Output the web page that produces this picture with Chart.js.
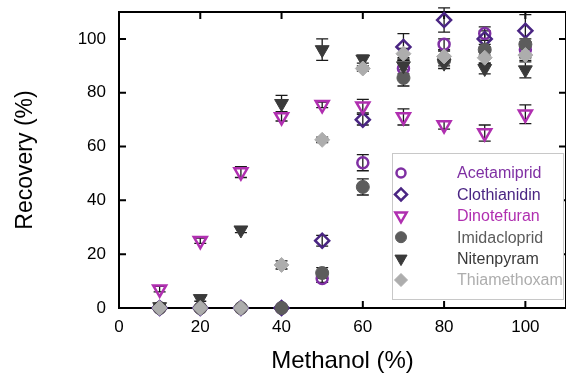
<!DOCTYPE html>
<html>
<head>
<meta charset="utf-8">
<script src="https://cdn.jsdelivr.net/npm/chart.js@4.4.0/dist/chart.umd.min.js"></script>
<style>
    html, body { margin: 0; padding: 0; background: #fff; }
    #wrap { width: 566px; height: 376px; }
</style>
</head>
<body>
<div id="wrap"><canvas id="recoveryChart"></canvas></div>
<script>
// Methanol content (%) on the x axis
const methanol = [10, 20, 30, 40, 50, 60, 70, 80, 90, 100];

// Recovery (%) per compound, with +/- error
const acetamiprid     = [0, 0, 0, 0, 11, 54, 89, 98, 102, 96];
const acetamipridErr  = [0, 0, 0, 0, 1.5, 3, 3, 2, 2.5, 3];
const clothianidin    = [0, 0, 0, 0, 25, 70, 97, 107, 100, 103];
const clothianidinErr = [0, 0, 0, 0, 2, 2, 5, 4.5, 3, 6];
const dinotefuran     = [7, 25, 50.5, 71, 75.5, 75, 71, 68, 65, 72];
const dinotefuranErr  = [1, 1, 2, 1.5, 1, 2.5, 3, 1.5, 3, 3.5];
const imidacloprid    = [0, 0, 0, 0, 13, 45, 85.5, 92, 96, 98];
const imidaclopridErr = [0, 0, 0, 0, 2, 3, 3, 2, 2, 2];
const nitenpyram      = [0.5, 3.5, 29, 76, 96, 92.5, 90, 91, 89, 88.5];
const nitenpyramErr   = [0.5, 1, 1, 3, 4, 1.5, 3, 2, 2, 3];
const thiamethoxam    = [0, 0, 0, 16, 62.5, 89, 94.5, 93.5, 93, 94];
const thiamethoxamErr = [0, 0, 0, 1.5, 1, 1, 2, 2, 2, 2];

const tickValues = [0, 20, 40, 60, 80, 100];
const FONT = '"Liberation Sans", Arial, sans-serif';

function toPoints(ys) {
    return methanol.map((x, i) => ({ x: x, y: ys[i] }));
}

const series = [
    { label: 'Acetamiprid',  data: acetamiprid,  err: acetamipridErr,  color: '#7f2fa3', style: 'circle',   radius: 5.5, open: true,  rotation: 0 },
    { label: 'Clothianidin', data: clothianidin, err: clothianidinErr, color: '#4a2583', style: 'rectRot',  radius: 7,   open: true,  rotation: 0 },
    { label: 'Dinotefuran',  data: dinotefuran,  err: dinotefuranErr,  color: '#b02fb0', style: 'triangle', radius: 7.5, open: true,  rotation: 180 },
    { label: 'Imidacloprid', data: imidacloprid, err: imidaclopridErr, color: '#5c5c5c', style: 'circle',   radius: 6.5, open: false, rotation: 0 },
    { label: 'Nitenpyram',   data: nitenpyram,   err: nitenpyramErr,   color: '#3a3a3a', style: 'triangle', radius: 8,   open: false, rotation: 180 },
    { label: 'Thiamethoxam', data: thiamethoxam, err: thiamethoxamErr, color: '#adadad', style: 'rectRot',  radius: 7.5, open: false, rotation: 0 }
];

// error bars, drawn under the markers
const errorBars = {
    id: 'errorBars',
    beforeDatasetsDraw(chart) {
        const ctx = chart.ctx;
        const xs = chart.scales.x, ys = chart.scales.y;
        ctx.save();
        ctx.strokeStyle = '#1a1a1a';
        ctx.lineWidth = 1.3;
        series.forEach(s => {
            methanol.forEach((m, i) => {
                const e = s.err[i];
                if (!e) return;
                const px = xs.getPixelForValue(m);
                const top = ys.getPixelForValue(s.data[i] + e);
                const bot = ys.getPixelForValue(s.data[i] - e);
                ctx.beginPath();
                ctx.moveTo(px, top); ctx.lineTo(px, bot);
                ctx.moveTo(px - 6, top); ctx.lineTo(px + 6, top);
                ctx.moveTo(px - 6, bot); ctx.lineTo(px + 6, bot);
                ctx.stroke();
            });
        });
        ctx.restore();
    }
};

// box frame with inward ticks on all four sides
const frame = {
    id: 'frame',
    beforeDatasetsDraw(chart) {
        const ctx = chart.ctx;
        const a = chart.chartArea;
        const xs = chart.scales.x, ys = chart.scales.y;
        ctx.save();
        ctx.strokeStyle = '#000';
        ctx.lineWidth = 2;
        ctx.strokeRect(a.left, a.top, a.right - a.left, a.bottom - a.top);
        ctx.beginPath();
        tickValues.forEach(v => {
            const px = xs.getPixelForValue(v);
            ctx.moveTo(px, a.bottom); ctx.lineTo(px, a.bottom - 7);
            ctx.moveTo(px, a.top); ctx.lineTo(px, a.top + 7);
            const py = ys.getPixelForValue(v);
            ctx.moveTo(a.left, py); ctx.lineTo(a.left + 7, py);
            ctx.moveTo(a.right, py); ctx.lineTo(a.right - 7, py);
        });
        ctx.stroke();
        ctx.restore();
    }
};

// legend box inside the plot, bottom right
const boxLegend = {
    id: 'boxLegend',
    afterDraw(chart) {
        const ctx = chart.ctx;
        const bx = 392, by = 153, bw = 171, bh = 146;
        ctx.save();
        ctx.fillStyle = '#fff';
        ctx.fillRect(bx, by, bw, bh);
        ctx.strokeStyle = '#c8c8c8';
        ctx.lineWidth = 1;
        ctx.strokeRect(bx + 0.5, by + 0.5, bw, bh);
        ctx.font = '16px ' + FONT;
        ctx.textBaseline = 'middle';
        series.forEach((s, i) => {
            const y = by + 20 + i * 21.4;
            ctx.fillStyle = s.open ? 'rgba(0,0,0,0)' : s.color;
            ctx.strokeStyle = s.color;
            ctx.lineWidth = s.open ? 2.5 : 1;
            Chart.helpers.drawPoint(ctx, {
                pointStyle: s.style,
                radius: s.radius - 1,
                rotation: s.rotation,
                borderWidth: ctx.lineWidth
            }, 401, y);
            ctx.fillStyle = s.color;
            ctx.fillText(s.label, 457, y + 1);
        });
        ctx.restore();
    }
};

function noPadding(scale) {
    scale.paddingTop = 0;
    scale.paddingBottom = 0;
    scale.paddingLeft = 0;
    scale.paddingRight = 0;
}

const ctx = document.getElementById('recoveryChart').getContext('2d');
new Chart(ctx, {
    type: 'scatter',
    data: {
        datasets: series.map((s, i) => ({
            label: s.label,
            data: toPoints(s.data),
            pointStyle: s.style,
            pointRadius: s.radius,
            pointRotation: s.rotation,
            pointBorderWidth: s.open ? 2.5 : 1,
            pointBackgroundColor: s.open ? 'rgba(0,0,0,0)' : s.color,
            pointBorderColor: s.color,
            borderColor: s.color,
            showLine: false,
            clip: false,
            order: series.length - i
        }))
    },
    options: {
        responsive: true,
        maintainAspectRatio: false,
        animation: false,
        layout: { autoPadding: false, padding: { top: 12, right: 0, left: 0, bottom: 0 } },
        plugins: {
            legend: { display: false },
            tooltip: { enabled: false }
        },
        scales: {
            x: {
                type: 'linear',
                min: 0,
                max: 110,
                afterBuildTicks: scale => { scale.ticks = tickValues.map(v => ({ value: v })); },
                afterFit: scale => { scale.height = 68; noPadding(scale); },
                grid: { display: false, drawTicks: false },
                border: { display: false },
                ticks: { color: '#000', padding: 9, font: { family: FONT, size: 17 } },
                title: {
                    display: true,
                    text: 'Methanol (%)',
                    color: '#000',
                    font: { family: FONT, size: 24 },
                    padding: { top: 4, bottom: 0 }
                }
            },
            y: {
                type: 'linear',
                min: 0,
                max: 110,
                afterBuildTicks: scale => { scale.ticks = tickValues.map(v => ({ value: v })); },
                afterFit: scale => { scale.width = 119; noPadding(scale); },
                grid: { display: false, drawTicks: false },
                border: { display: false },
                ticks: { color: '#000', padding: 13, font: { family: FONT, size: 17 } },
                title: {
                    display: true,
                    text: 'Recovery (%)',
                    color: '#000',
                    font: { family: FONT, size: 23 },
                    padding: { top: 12, bottom: 0 }
                }
            }
        }
    },
    plugins: [frame, errorBars, boxLegend]
});
</script>
</body>
</html>
